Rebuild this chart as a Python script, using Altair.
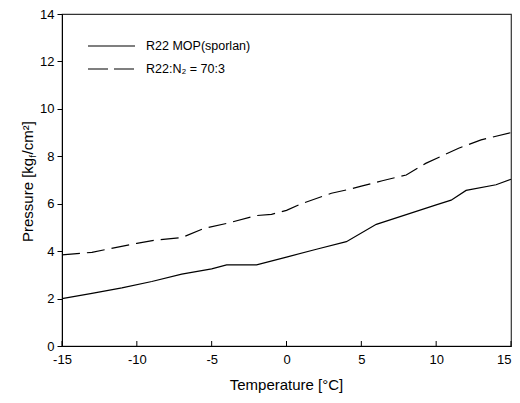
import altair as alt
import pandas as pd

# Series 1: R22 MOP (sporlan) - solid
temp_solid = [-15, -13, -11, -9, -7, -5, -4, -2, 0, 2, 4, 6, 8, 10, 11, 12, 14, 15]
pres_solid = [2.0, 2.22, 2.45, 2.72, 3.03, 3.25, 3.42, 3.42, 3.75, 4.08, 4.4, 5.13, 5.54, 5.95, 6.15, 6.56, 6.8, 7.03]

# Series 2: R22:N2 = 70:3 - dashed
temp_dash = [-15, -13, -10, -8.7, -7, -5.5, -4, -2, -1, 0, 1, 3, 4, 5, 6.4, 8, 9.3, 11.5, 13, 15]
pres_dash = [3.84, 3.95, 4.33, 4.47, 4.57, 4.96, 5.17, 5.5, 5.55, 5.72, 6.0, 6.44, 6.58, 6.74, 6.97, 7.21, 7.7, 8.34, 8.69, 9.0]

x_ticks = [-15, -10, -5, 0, 5, 10, 15]
y_ticks = [0, 2, 4, 6, 8, 10, 12, 14]

legend_labels = ["R22 MOP(sporlan)", "R22:N\u2082 = 70:3"]

W, H = 449, 332
FONT = "Liberation Sans"

df_s = pd.DataFrame({"T": temp_solid, "P": pres_solid})
df_d = pd.DataFrame({"T": temp_dash, "P": pres_dash})
df_ticks = pd.DataFrame({"t": x_ticks})

xs = alt.Scale(domain=[-15, 15], nice=False, zero=False)
ys = alt.Scale(domain=[0, 14], nice=False)

xaxis = alt.Axis(values=x_ticks, ticks=False, labelPadding=7, title=None, grid=False,
                 labelFontSize=13, labelFont=FONT, labelColor="black", domainColor="black",
                 labelFlush=False, labelExpr="'' + datum.value",
                 labelAlign=alt.ExprRef(expr="datum.value == 15 ? 'right' : 'center'"))
yaxis = alt.Axis(values=y_ticks, tickSize=5, labelPadding=3, title=None, grid=False,
                 labelFontSize=13, labelFont=FONT, labelColor="black", domainColor="black",
                 tickColor="black", labelExpr="'' + datum.value")

solid = alt.Chart(df_s).mark_line(color="black", strokeWidth=1.2).encode(
    x=alt.X("T:Q", scale=xs, axis=xaxis),
    y=alt.Y("P:Q", scale=ys, axis=yaxis),
)
dashed = alt.Chart(df_d).mark_line(color="black", strokeWidth=1.2, strokeDash=[18, 7]).encode(
    x=alt.X("T:Q", scale=xs),
    y=alt.Y("P:Q", scale=ys),
)
bticks = alt.Chart(df_ticks).mark_rule(color="black", strokeWidth=1).encode(
    x=alt.X("t:Q", scale=xs),
    y=alt.value(H - 5),
    y2=alt.value(H),
)

# legend
one = pd.DataFrame({"a": [0]})
leg_solid = alt.Chart(one).mark_rule(color="black", strokeWidth=1.2).encode(
    x=alt.value(26), x2=alt.value(73), y=alt.value(32))
leg_dash = alt.Chart(one).mark_rule(color="black", strokeWidth=1.2, strokeDash=[20, 6]).encode(
    x=alt.value(26), x2=alt.value(73), y=alt.value(55))
leg_t1 = alt.Chart(one).mark_text(
    text=legend_labels[0], align="left", baseline="middle", fontSize=12.5, font=FONT, color="black"
).encode(x=alt.value(84), y=alt.value(32))
leg_t2 = alt.Chart(one).mark_text(
    text=legend_labels[1], align="left", baseline="middle", fontSize=12.5, font=FONT, color="black"
).encode(x=alt.value(84), y=alt.value(55))

# axis titles
xt = alt.Chart(one).mark_text(
    text="Temperature [\u00b0C]", align="center", baseline="alphabetic", fontSize=15, font=FONT, color="black"
).encode(x=alt.value(W / 2), y=alt.value(376))

yt1 = alt.Chart(one).mark_text(
    text="Pressure [kg", align="left", baseline="alphabetic", angle=270, fontSize=15, font=FONT, color="black"
).encode(x=alt.value(-29), y=alt.value(228))
yt2 = alt.Chart(one).mark_text(
    text="f", align="left", baseline="alphabetic", angle=270, fontSize=9, font=FONT, color="black"
).encode(x=alt.value(-26), y=alt.value(228 - 84.5))
yt3 = alt.Chart(one).mark_text(
    text="/cm\u00b2]", align="left", baseline="alphabetic", angle=270, fontSize=15, font=FONT, color="black"
).encode(x=alt.value(-29), y=alt.value(228 - 87.5))

chart = alt.layer(solid, dashed, bticks, leg_solid, leg_dash, leg_t1, leg_t2, xt, yt1, yt2, yt3).properties(
    width=W, height=H,
    autosize=alt.AutoSizeParams(type="none"),
    padding={"left": 54, "top": 6, "right": 1, "bottom": 49},
    background="white",
).configure_view(stroke="#333333", strokeWidth=1.2)

chart.save("out.html", embed_options={"renderer": "svg", "actions": False})
